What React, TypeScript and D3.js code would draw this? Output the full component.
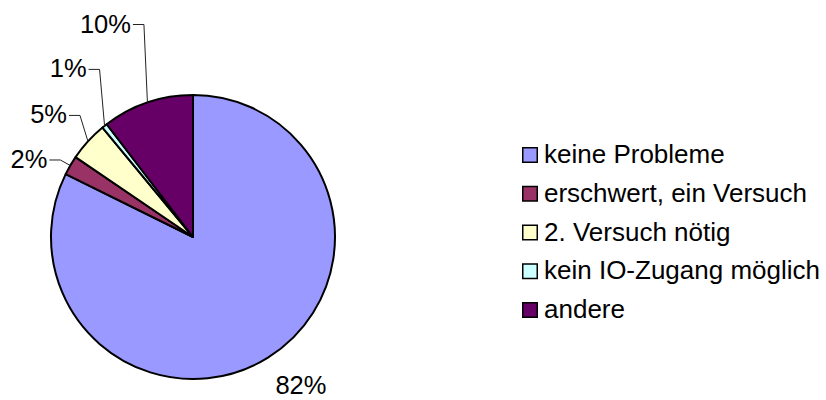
import React from "react";
import * as d3 from "d3";

const categories = ["keine Probleme", "erschwert, ein Versuch", "2. Versuch nötig", "kein IO-Zugang möglich", "andere"];
const values = [82.3, 2.2, 4.5, 0.6, 10.4];
const labels = ["82%", "2%", "5%", "1%", "10%"];
const colors = ["#9999FF", "#993366", "#FFFFCC", "#CCFFFF", "#660066"];
// layout: elbow offset from slice-edge midpoint; false = no leader line
const labelOffsets: [number, number, boolean][] = [
  [33, 27, false],
  [-10, -5.5, true],
  [-8, -26, true],
  [-5, -56.5, true],
  [-3.5, -78, true],
];

const W = 826, H = 400;
const cx = 193, cy = 237, R = 142;
const font = "Liberation Sans";
const labelSize = 25.5;
const legendSize = 26;

export default function App() {
  const pie = d3.pie<number>().sort(null).value((d) => d);
  const arcs = pie(values);
  const arc = d3.arc<d3.PieArcDatum<number>>().innerRadius(0).outerRadius(R);
  const legendY = d3.scaleLinear().domain([0, categories.length - 1]).range([147, 302]);

  return (
    <svg width={W} height={H} style={{ position: "absolute", left: 0, top: 0, background: "#fff", fontFamily: font }}>
      <g transform={`translate(${cx},${cy})`}>
        {arcs.map((a, i) => (
          <path key={i} d={arc(a) || ""} fill={colors[i]} stroke="#000" strokeWidth={2} strokeLinejoin="round" />
        ))}
        {arcs.map((a, i) => {
          const mid = (a.startAngle + a.endAngle) / 2;
          const px = R * Math.sin(mid);
          const py = -R * Math.cos(mid);
          const [ox, oy, leader] = labelOffsets[i];
          const ex = px + ox, ey = py + oy;
          if (!leader) {
            return (
              <text key={i} x={ex} y={ey + 9} fontSize={labelSize} textAnchor="middle" fill="#000" style={{ fontFamily: font }}>
                {labels[i]}
              </text>
            );
          }
          return (
            <g key={i}>
              <polyline points={`${px},${py} ${ex},${ey} ${ex - 11},${ey}`} fill="none" stroke="#222" strokeWidth={1} />
              <text x={ex - 13} y={ey + 8} fontSize={labelSize} textAnchor="end" fill="#000" style={{ fontFamily: font }}>
                {labels[i]}
              </text>
            </g>
          );
        })}
      </g>
      <g>
        {categories.map((c, i) => (
          <g key={c} transform={`translate(522,${legendY(i)})`}>
            <rect x={0.75} y={0.75} width={14.5} height={14.5} fill={colors[i]} stroke="#000" strokeWidth={1.5} />
            <text x={22} y={16} fontSize={legendSize} fill="#000" style={{ fontFamily: font }}>
              {c}
            </text>
          </g>
        ))}
      </g>
    </svg>
  );
}
